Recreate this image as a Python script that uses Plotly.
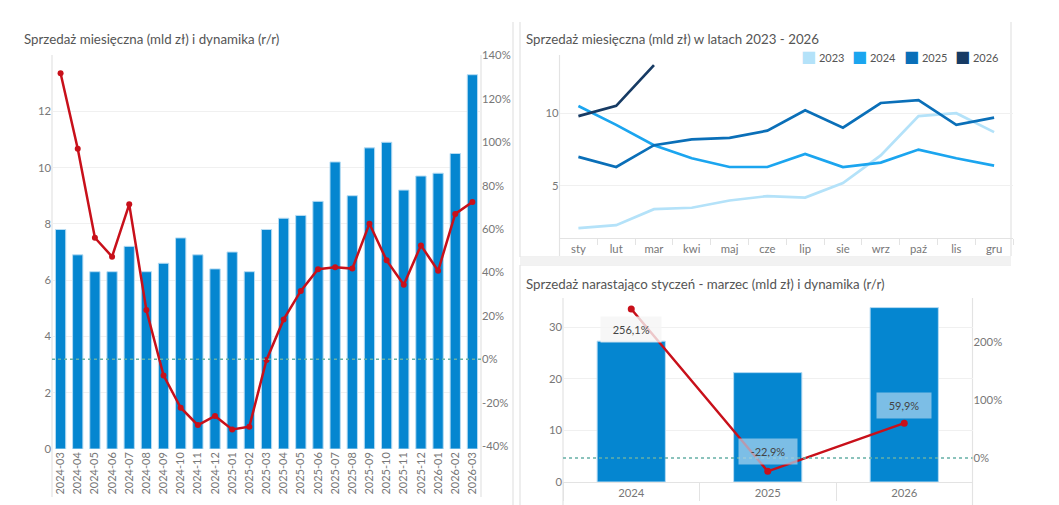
import plotly.graph_objects as go

# reference canvas is 1059x505; the page body adds an 8px margin, so the
# figure is drawn 8px smaller and all layout pixel positions are shifted by it
W, H = 1059, 505
OFF = 8
FW, FH = W - OFF, H - OFF

# --- data ---
months_pl = ["sty", "lut", "mar", "kwi", "maj", "cze", "lip", "sie", "wrz", "paź", "lis", "gru"]
sales_2023 = [2.1, 2.3, 3.4, 3.5, 4.0, 4.3, 4.2, 5.2, 7.1, 9.8, 10.0, 8.7]
sales_2024 = [10.5, 9.2, 7.8, 6.9, 6.3, 6.3, 7.2, 6.3, 6.6, 7.5, 6.9, 6.4]
sales_2025 = [7.0, 6.3, 7.8, 8.2, 8.3, 8.8, 10.2, 9.0, 10.7, 10.9, 9.2, 9.7]
sales_2026 = [9.8, 10.5, 13.3]

monthly_labels = ["2024-03", "2024-04", "2024-05", "2024-06", "2024-07", "2024-08",
                  "2024-09", "2024-10", "2024-11", "2024-12", "2025-01", "2025-02",
                  "2025-03", "2025-04", "2025-05", "2025-06", "2025-07", "2025-08",
                  "2025-09", "2025-10", "2025-11", "2025-12", "2026-01", "2026-02",
                  "2026-03"]
monthly_sales = sales_2024[2:] + sales_2025 + sales_2026
monthly_yoy = [131.8, 97.0, 56.0, 47.3, 71.4, 22.7, -7.4, -22.3, -30.3, -26.1, -32.3, -31.0,
               -0.3, 18.4, 31.5, 41.5, 42.4, 41.8, 62.5, 45.6, 34.4, 52.5, 40.8, 67.0, 72.5]

ytd_years = ["2024", "2025", "2026"]
ytd_sales = [27.3, 21.2, 33.8]
ytd_yoy = [256.1, -22.9, 59.9]

yoy_ticks = [-40, -20, 0, 20, 40, 60, 80, 100, 120, 140]
ytd_yoy_ticks = [0, 100, 200]

year_series = {"2023": sales_2023, "2024": sales_2024, "2025": sales_2025, "2026": sales_2026}
year_colors = {"2023": "#b4e2f9", "2024": "#1ba5ef", "2025": "#0a6fb8", "2026": "#173b64"}

BAR = "#0586d0"
RED = "#c8101a"
ZERO = "#66b0a6"
GRID = "#f0f0f0"
AXL = "#e3e3e3"
TXT = "#777777"
FONT = "Lato"


def fx(p):
    return (p - OFF) / FW


def fy(p):
    return 1 - (p - OFF) / FH


def pct(vals):
    return [f"{v}%" for v in vals]


fig = go.Figure()

# left chart: monthly bars + yoy line
fig.add_trace(go.Bar(x=monthly_labels, y=monthly_sales, marker_color=BAR,
                     marker_line=dict(color="#b7dcf3", width=1), xaxis="x", yaxis="y",
                     showlegend=False))
fig.add_trace(go.Scatter(x=monthly_labels, y=monthly_yoy, mode="lines+markers",
                         line=dict(color=RED, width=2.5), marker=dict(color=RED, size=6),
                         xaxis="x", yaxis="y2", showlegend=False))

# top right: lines per year
for yr, vals in year_series.items():
    fig.add_trace(go.Scatter(x=months_pl[:len(vals)], y=vals, mode="lines", name=yr,
                             line=dict(color=year_colors[yr], width=2.7),
                             xaxis="x2", yaxis="y3", showlegend=False))

# bottom right: YTD bars + yoy
fig.add_trace(go.Bar(x=ytd_years, y=ytd_sales, marker_color=BAR, width=0.5,
                     marker_line=dict(color="#b7dcf3", width=1), xaxis="x3", yaxis="y4",
                     showlegend=False))
fig.add_trace(go.Scatter(x=ytd_years, y=ytd_yoy, mode="lines+markers",
                         line=dict(color=RED, width=2.5), marker=dict(color=RED, size=7),
                         xaxis="x3", yaxis="y5", showlegend=False))

tickfont = dict(family=FONT, size=11.3, color=TXT)

fig.update_layout(
    width=FW, height=FH,
    margin=dict(l=0, r=0, t=0, b=0),
    template="none",
    paper_bgcolor="white", plot_bgcolor="white",
    font=dict(family=FONT, color=TXT),
    bargap=0.4,
    showlegend=False,
    xaxis=dict(domain=[fx(52), fx(481)], type="category", range=[-0.5, 24.5], tickangle=-90,
               tickfont=dict(family=FONT, size=11, color=TXT), showgrid=False, showline=False,
               ticks="", automargin=False),
    yaxis=dict(domain=[fy(449), fy(55)], range=[0, 14], tickvals=[0, 2, 4, 6, 8, 10, 12],
               showgrid=True, gridcolor=GRID, zeroline=False, tickfont=tickfont,
               ticks="", showline=False, automargin=False),
    yaxis2=dict(overlaying="y", side="right", range=[-41.3, 140.2],
                tickvals=yoy_ticks, ticktext=pct(yoy_ticks),
                showgrid=False, zeroline=False, tickfont=tickfont, ticks="",
                showline=False, automargin=False),
    xaxis2=dict(domain=[fx(559.5), fx(1013)], anchor="y3", type="category", range=[-0.5, 11.5],
                tickfont=tickfont, showgrid=False, showline=True, linecolor=AXL, ticks="outside",
                tickson="boundaries", ticklen=6, tickcolor=AXL, automargin=False),
    yaxis3=dict(domain=[fy(238.3), fy(55)], anchor="x2", range=[1.4, 14.0], tickvals=[5, 10],
                showgrid=True, gridcolor=GRID, zeroline=False, tickfont=tickfont, ticks="",
                showline=False, automargin=False),
    xaxis3=dict(domain=[fx(563), fx(972.5)], anchor="y4", type="category", range=[-0.5, 2.5],
                tickfont=tickfont, tickangle=0,
                showgrid=False, showline=True, linecolor=AXL, ticks="outside",
                tickson="boundaries", ticklen=18, tickcolor=AXL, automargin=False),
    yaxis4=dict(domain=[fy(482), fy(298.3)], anchor="x3", range=[0, 35.6], tickvals=[0, 10, 20, 30],
                showgrid=True, gridcolor=GRID, zeroline=False, tickfont=tickfont, ticks="",
                showline=False, automargin=False),
    yaxis5=dict(overlaying="y4", side="right", anchor="x3", range=[-41.2, 274.5],
                tickvals=ytd_yoy_ticks, ticktext=pct(ytd_yoy_ticks), showgrid=False,
                zeroline=False, tickfont=tickfont, ticks="", showline=False, automargin=False),
)

# colour legend of the year lines (square swatch + year), Tableau style
legend_x = [800, 851, 902.5, 954]
for yr, lx in zip(year_series, legend_x):
    fig.add_annotation(x=fx(lx), y=fy(56.2), xref="paper", yref="paper", xanchor="left",
                       yanchor="middle", showarrow=False, borderpad=0,
                       text=(f"<span style='color:{year_colors[yr]};font-family:DejaVu Sans;"
                             f"font-size:16px'>■</span> {yr}"),
                       font=dict(family=FONT, size=11, color="#555"))

shapes = []
# zero lines of yoy axes
for xr, yr in (("x", "y2"), ("x3", "y5")):
    shapes.append(dict(type="line", xref=xr + " domain", yref=yr, x0=0, x1=1, y0=0, y1=0,
                       line=dict(color=ZERO, width=1.5, dash="dot"), layer="above"))
# axis lines and panel borders
lines = [
    (52, 55, 52, 497), (481, 55, 481, 497),          # left chart axes
    (559.5, 55, 559.5, 256), (1011, 22, 1011, 256),   # top right
    (563, 298, 563, 505), (972.5, 298, 972.5, 505),   # bottom right
    (513, 22, 513, 505), (520, 22, 520, 257), (520, 265, 520, 505),
    (520, 257, 1011, 257), (520, 265, 1011, 265),
]
for x0, y0, x1, y1 in lines:
    shapes.append(dict(type="line", xref="paper", yref="paper", x0=fx(x0), y0=fy(y0),
                       x1=fx(x1), y1=fy(y1), line=dict(color=AXL, width=1.2), layer="below"))
shapes.append(dict(type="rect", xref="paper", yref="paper", x0=fx(520), x1=fx(1011),
                   y0=fy(265), y1=fy(257), fillcolor="#f2f2f2", line=dict(width=0), layer="below"))
fig.update_layout(shapes=shapes)

titles = [
    (23, 38.5, "Sprzedaż miesięczna (mld zł) i dynamika (r/r)"),
    (525, 38.5, "Sprzedaż miesięczna (mld zł) w latach 2023 - 2026"),
    (525, 284, "Sprzedaż narastająco styczeń - marzec (mld zł) i dynamika (r/r)"),
]
for x, y, t in titles:
    fig.add_annotation(x=fx(x), y=fy(y), xref="paper", yref="paper", text=t, showarrow=False,
                       xanchor="left", yanchor="middle", borderpad=0,
                       font=dict(family=FONT, size=13.3, color="#555"))

# YTD labels (x as category index so the category axis keeps its range)
label_bg = ["rgba(245,245,245,0.8)", "rgba(175,214,240,0.7)", "rgba(175,214,240,0.7)"]
label_shift = [-20, 20, 18]
for i, (v, bg, sh) in enumerate(zip(ytd_yoy, label_bg, label_shift)):
    label = f"{v:.1f}%".replace(".", ",")
    fig.add_annotation(x=i, y=v, xref="x3", yref="y5", text=f"&nbsp;&nbsp;{label}&nbsp;&nbsp;",
                       showarrow=False, yshift=sh, bgcolor=bg, borderpad=6,
                       font=dict(family=FONT, size=11, color="#444"))

fig.write_html("out.html")
